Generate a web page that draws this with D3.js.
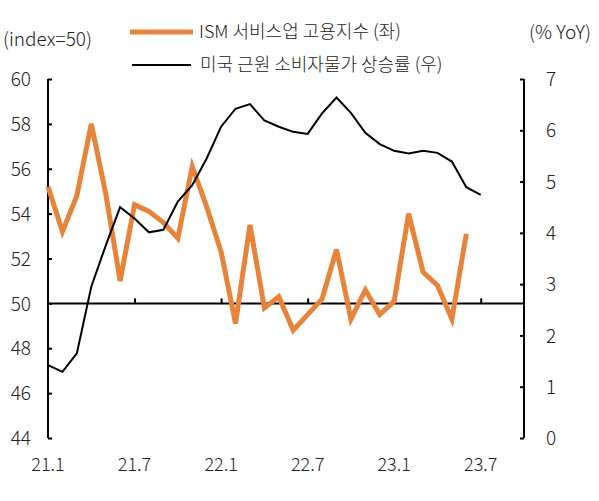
<!DOCTYPE html>
<html>
<head>
<meta charset="utf-8">
<script src="https://cdn.jsdelivr.net/npm/d3@7"></script>
<style>
  html, body { margin: 0; padding: 0; background: #fff; }
  svg text { font-family: "Noto Sans CJK KR", "Noto Sans", sans-serif; fill: #222; font-weight: 300; }
</style>
</head>
<body>
<svg id="chart" width="599" height="501"></svg>
<script>
// month index 0 = 2021.1
const ismMonths = d3.range(0, 30);
const ismEmployment = [55.2, 53.2, 54.8, 58.0, 54.9, 51.0, 54.4, 54.1, 53.6, 52.9,
  56.1, 54.3, 52.3, 49.1, 53.5, 49.8, 50.3, 48.8, 49.5, 50.2,
  52.4, 49.3, 50.6, 49.5, 50.1, 54.0, 51.4, 50.8, 49.3, 53.1];
const cpiMonths = d3.range(0, 31);
const coreCpi = [1.42, 1.29, 1.65, 2.95, 3.75, 4.5, 4.28, 4.01, 4.06, 4.61,
  4.93, 5.45, 6.07, 6.42, 6.51, 6.19, 6.07, 5.97, 5.93, 6.33,
  6.64, 6.34, 5.95, 5.73, 5.6, 5.55, 5.6, 5.56, 5.39, 4.89, 4.74];
const xTickValues = [0, 6, 12, 18, 24, 30];
const xTickLabels = ["21.1", "21.7", "22.1", "22.7", "23.1", "23.7"];
const leftTicks = [44, 46, 48, 50, 52, 54, 56, 58, 60];
const rightTicks = [0, 1, 2, 3, 4, 5, 6, 7];
const legendLabels = ["ISM 서비스업 고용지수 (좌)", "미국 근원 소비자물가 상승률 (우)"];

(function () {
const svg = d3.select("#chart");
const pL = 48, pR = 524, pT = 79, pB = 438;
const x = d3.scaleLinear().domain([0, 33]).range([pL, pR]);
const yL = d3.scaleLinear().domain([44, 60]).range([pB, pT]);
const yR = d3.scaleLinear().domain([0, 7]).range([pB, pT]);
const orange = "#E8833A";
const fsAxis = 19, fsLeg = 18, fsX = 18;

// left axis
const gL = svg.append("g").attr("transform", `translate(${pL},0)`)
  .call(d3.axisRight(yL).tickValues(leftTicks).tickSize(4).tickFormat(d3.format("d")));
gL.select(".domain").remove();
gL.append("line").attr("x1", 0).attr("x2", 0).attr("y1", pT).attr("y2", pB)
  .attr("stroke", "#000").attr("stroke-width", 2);
gL.selectAll(".tick line").attr("stroke", "#000").attr("stroke-width", 2);
gL.selectAll(".tick text").attr("x", -17).attr("text-anchor", "end")
  .style("font-size", fsAxis + "px").attr("dy", "0.35em");

// right axis
const gR = svg.append("g").attr("transform", `translate(${pR},0)`)
  .call(d3.axisLeft(yR).tickValues(rightTicks).tickSize(4).tickFormat(d3.format("d")));
gR.select(".domain").remove();
gR.append("line").attr("x1", 0).attr("x2", 0).attr("y1", pT).attr("y2", pB)
  .attr("stroke", "#000").attr("stroke-width", 2);
gR.selectAll(".tick line").attr("stroke", "#000").attr("stroke-width", 2);
gR.selectAll(".tick text").attr("x", 22).attr("text-anchor", "start")
  .style("font-size", fsAxis + "px").attr("dy", "0.35em");

// x axis at 50
const y50 = yL(50);
const gX = svg.append("g").attr("transform", `translate(0,${y50})`)
  .call(d3.axisTop(x).tickValues(xTickValues).tickSize(5).tickFormat(""));
gX.select(".domain").remove();
gX.append("line").attr("x1", pL).attr("x2", pR).attr("y1", 0).attr("y2", 0)
  .attr("stroke", "#000").attr("stroke-width", 2);
gX.selectAll(".tick line").attr("stroke", "#000").attr("stroke-width", 2);
gX.selectAll(".tick").filter(d => d === 0).remove();

// x labels at bottom
svg.append("g").selectAll("text").data(xTickValues).join("text")
  .attr("x", d => x(d)).attr("y", 465).attr("text-anchor", "middle")
  .style("font-size", fsX + "px").attr("dy", "0.35em")
  .text((d, i) => xTickLabels[i]);

// lines
const ismLine = d3.line().x((d, i) => x(ismMonths[i])).y(d => yL(d));
svg.append("path").datum(ismEmployment).attr("d", ismLine)
  .attr("fill", "none").attr("stroke", orange).attr("stroke-width", 5)
  .attr("stroke-linejoin", "miter");
const cpiLine = d3.line().x((d, i) => x(cpiMonths[i])).y(d => yR(d));
svg.append("path").datum(coreCpi).attr("d", cpiLine)
  .attr("fill", "none").attr("stroke", "#000").attr("stroke-width", 2);

// unit labels
svg.append("text").attr("x", 3).attr("y", 39).attr("dy", "0.35em")
  .style("font-size", fsAxis + "px").text("(index=50)");
svg.append("text").attr("x", 591).attr("y", 32).attr("dy", "0.35em").attr("text-anchor", "end")
  .style("font-size", fsAxis + "px").text("(% YoY)");

// legend
const legY = [32, 65];
svg.append("line").attr("x1", 130).attr("x2", 193).attr("y1", legY[0]).attr("y2", legY[0])
  .attr("stroke", orange).attr("stroke-width", 5);
svg.append("line").attr("x1", 132).attr("x2", 191).attr("y1", legY[1]).attr("y2", legY[1])
  .attr("stroke", "#000").attr("stroke-width", 2);
svg.append("text").attr("x", 199).attr("y", legY[0]).attr("dy", "0.35em")
  .style("font-size", fsLeg + "px").text(legendLabels[0]);
svg.append("text").attr("x", 200).attr("y", legY[1]).attr("dy", "0.35em")
  .style("font-size", fsLeg + "px").text(legendLabels[1]);
})();
</script>
</body>
</html>
